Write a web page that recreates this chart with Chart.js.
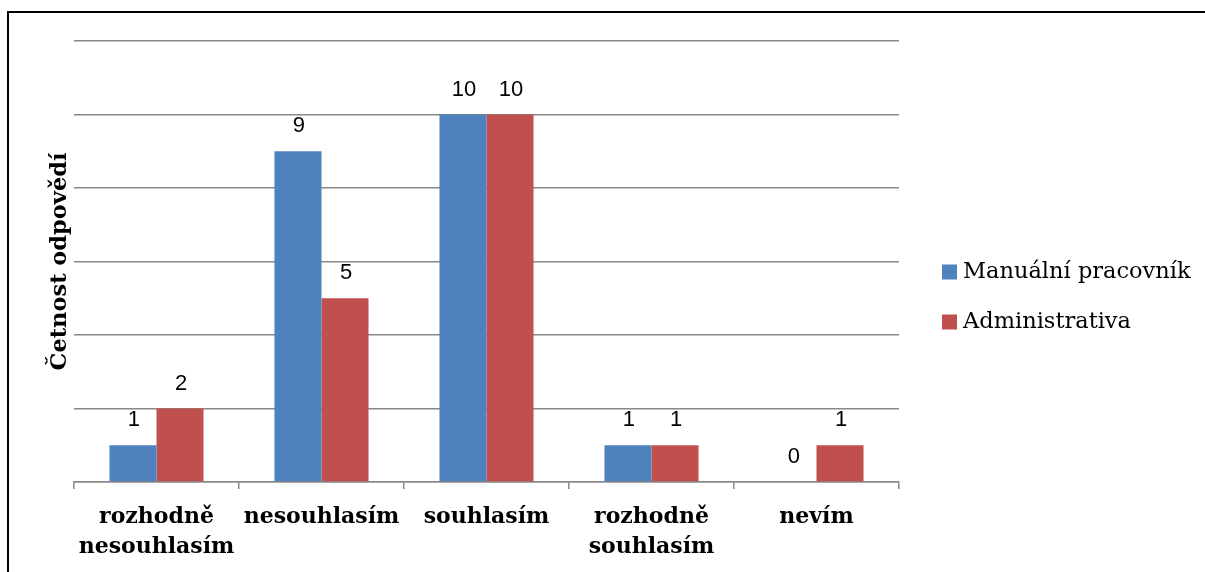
<!DOCTYPE html>
<html lang="cs">
<head>
<meta charset="utf-8">
<title>Četnost odpovědí</title>
<script src="https://cdn.jsdelivr.net/npm/chart.js@4.4.1/dist/chart.umd.min.js"></script>
<style>
  html, body { margin: 0; padding: 0; background: #fff; }
  #wrap { width: 1205px; height: 572px; position: relative; }
</style>
</head>
<body>
<div id="wrap"><canvas id="c" width="1205" height="572"></canvas></div>
<script>
// Answer categories (x axis), two-line where the label wraps
const categories = [
  ['rozhodně', 'nesouhlasím'],
  'nesouhlasím',
  'souhlasím',
  ['rozhodně', 'souhlasím'],
  'nevím'
];

// Number of answers per group
const manualni = [1, 9, 10, 1, 0];
const administrativa = [2, 5, 10, 1, 1];

const seriesNames = ['Manuální pracovník', 'Administrativa'];
const yTicks = [0, 2, 4, 6, 8, 10, 12];

const SERIF = '"DejaVu Serif", serif';
const SANS = '"Liberation Sans", Arial, sans-serif';
const GRID = '#898989';

// Outer frame around the chart object
const framePlugin = {
  id: 'frame',
  beforeDraw(chart) {
    const ctx = chart.ctx;
    ctx.save();
    ctx.fillStyle = '#fff';
    ctx.fillRect(0, 0, chart.width, chart.height);
    ctx.strokeStyle = '#000';
    ctx.lineWidth = 2;
    ctx.beginPath();
    ctx.moveTo(8, chart.height);
    ctx.lineTo(8, 12);
    ctx.lineTo(chart.width, 12);
    ctx.stroke();
    ctx.restore();
  }
};

// Value printed above each bar
const valueLabels = {
  id: 'valueLabels',
  afterDatasetsDraw(chart) {
    const ctx = chart.ctx;
    ctx.save();
    ctx.font = '22px ' + SANS;
    ctx.fillStyle = '#000';
    ctx.textAlign = 'center';
    ctx.textBaseline = 'middle';
    chart.data.datasets.forEach((ds, i) => {
      const meta = chart.getDatasetMeta(i);
      meta.data.forEach((bar, j) => {
        ctx.fillText(String(ds.data[j]), bar.x + 1, bar.y - 25);
      });
    });
    ctx.restore();
  }
};

// Legend on the right: coloured square + series name
const sideLegend = {
  id: 'sideLegend',
  afterDraw(chart) {
    const ctx = chart.ctx;
    ctx.save();
    ctx.font = '22.5px ' + SERIF;
    ctx.textBaseline = 'middle';
    ctx.textAlign = 'left';
    chart.data.datasets.forEach((ds, i) => {
      const cy = 272 + i * 50;
      ctx.fillStyle = ds.backgroundColor;
      ctx.fillRect(942, cy - 7.5, 15, 15);
      ctx.fillStyle = '#000';
      ctx.fillText(ds.label, 963, cy);
    });
    ctx.restore();
  }
};

new Chart(document.getElementById('c'), {
  type: 'bar',
  data: {
    labels: categories,
    datasets: [
      { label: seriesNames[0], data: manualni, backgroundColor: '#4F81BD' },
      { label: seriesNames[1], data: administrativa, backgroundColor: '#C0504D' }
    ]
  },
  options: {
    responsive: false,
    animation: false,
    devicePixelRatio: 1,
    layout: { padding: { left: 0, top: 41, right: 306, bottom: 0 } },
    datasets: { bar: { categoryPercentage: 0.57, barPercentage: 1.0 } },
    plugins: {
      legend: { display: false },
      tooltip: { enabled: false }
    },
    scales: {
      x: {
        afterFit(scale) { scale.height = 90; },
        grid: {
          offset: true,
          drawOnChartArea: false,
          drawTicks: true,
          tickLength: 7,
          color: GRID,
          lineWidth: 1.5
        },
        border: { display: true, color: GRID, width: 1.5 },
        ticks: {
          color: '#000',
          padding: 13,
          maxRotation: 0,
          autoSkip: false,
          font: { family: SERIF, size: 22, weight: 'bold', lineHeight: 1.36 }
        }
      },
      y: {
        min: 0,
        max: 12,
        afterFit(scale) { scale.width = 74; },
        afterBuildTicks(scale) { scale.ticks = yTicks.map(v => ({ value: v })); },
        grid: { drawTicks: false, color: GRID, lineWidth: 1.5 },
        border: { display: false },
        ticks: { display: false },
        title: {
          display: true,
          text: 'Četnost odpovědí',
          color: '#000',
          padding: { top: 47, bottom: 0 },
          font: { family: SERIF, size: 22.5, weight: 'bold', lineHeight: 1.2 }
        }
      }
    }
  },
  plugins: [framePlugin, valueLabels, sideLegend]
});
</script>
</body>
</html>
